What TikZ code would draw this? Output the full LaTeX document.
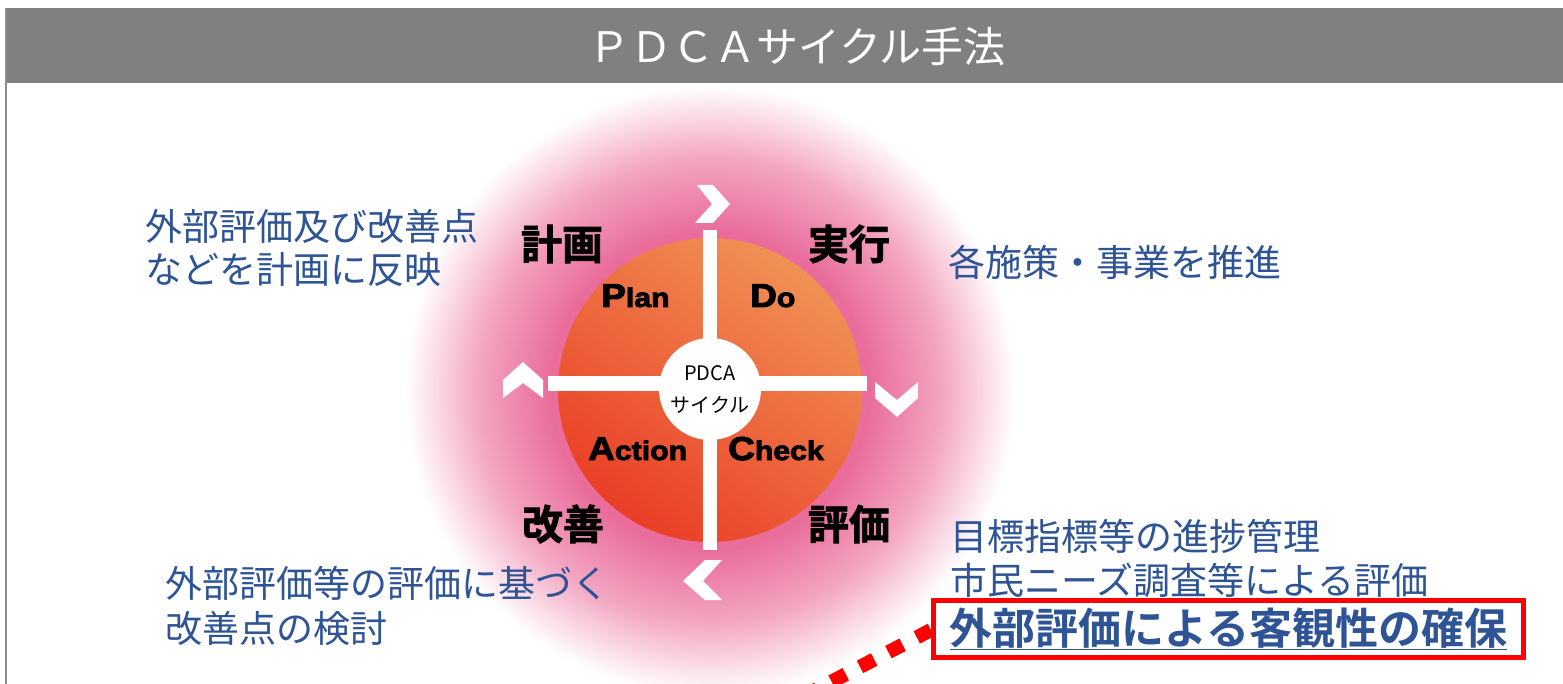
\documentclass[tikz,border=0pt]{standalone}
\usepackage{fontspec}
\setmainfont{Noto Sans CJK JP}
\newfontfamily\jp{Noto Sans CJK JP}
\newfontfamily\jpb{Noto Sans CJK JP Bold}
\newfontfamily\jpheavy[FakeBold=1.8]{Noto Sans CJK JP Bold}
\newfontfamily\heavy[FakeBold=3,FakeStretch=1.12]{Liberation Sans Bold}
\definecolor{titlegray}{RGB}{128,128,128}
\definecolor{framegray}{RGB}{140,140,140}
\definecolor{glowpink}{RGB}{233,108,155}
\definecolor{glowmid}{RGB}{243,165,193}
\definecolor{disctop}{RGB}{240,145,85}
\definecolor{discbot}{RGB}{234,62,38}
\definecolor{textblue}{RGB}{46,84,150}
\definecolor{boxred}{RGB}{255,0,0}
\pgfdeclareradialshading{glow}{\pgfpoint{0bp}{0bp}}{color(0bp)=(glowpink); color(13bp)=(glowpink); color(19bp)=(glowmid); color(25bp)=(white); color(50bp)=(white)}
\tikzset{
  bluetext/.style={anchor=west, inner sep=0pt, text=textblue, font=\jp\fontsize{37}{40}\selectfont},
  stagelabel/.style={inner sep=0pt, text=black, font=\jpheavy\fontsize{41}{44}\selectfont},
  pdcaword/.style={anchor=base west, inner sep=0pt, text=black},
  chevron/.style={fill=white, draw=none}
}
\newcommand{\bigL}[1]{{\fontsize{33}{36}\selectfont #1}}
\newcommand{\smlL}[1]{{\fontsize{27}{30}\selectfont #1}}
\begin{document}
\begin{tikzpicture}[x=1pt,y=-1pt]
\useasboundingbox (0,0) rectangle (1563,684);
\fill[white] (0,0) rectangle (1563,684);
% glow
\shade[shading=glow] (710,390) circle[radius=305pt];
% disc
\shade[top color=disctop, bottom color=discbot, shading angle=-35] (710,390) circle[radius=152pt];
% cross
\fill[white] (703,230) rectangle (717,550);
\fill[white] (548,376) rectangle (867,391);
\node[circle, fill=white, minimum size=102pt, inner sep=0pt, align=center,
      font=\jp\fontsize{20}{32}\selectfont] (core) at (710,389) {PDCA\\サイクル};
% chevrons
\fill[chevron] (697,185) -- (713,185) -- (730,204) -- (713,223) -- (695,223) -- (712,204) -- cycle;
\fill[chevron] (875,382) -- (897,400) -- (918,382) -- (918,398) -- (897,417) -- (875,398) -- cycle;
\fill[chevron] (722,560) -- (705,560) -- (683,581) -- (705,600) -- (722,600) -- (703,581) -- cycle;
\fill[chevron] (503,380) -- (523,362) -- (543,380) -- (543,398) -- (523,383) -- (503,398) -- cycle;
% stage labels
\node[stagelabel] (keikaku) at (562,244) {計画};
\node[stagelabel] (jikko) at (849,244) {実行};
\node[stagelabel] (kaizen) at (563,524) {改善};
\node[stagelabel] (hyoka) at (849,524) {評価};
% PDCA words
\node[pdcaword, font=\heavy] (plan) at (601,307) {\bigL{P}\smlL{lan}};
\node[pdcaword, font=\heavy] (do) at (750,307) {\bigL{D}\smlL{o}};
\node[pdcaword, font=\heavy] (action) at (588,460) {\bigL{A}\smlL{ction}};
\node[pdcaword, font=\heavy] (check) at (728,460) {\bigL{C}\smlL{heck}};
% title bar
\fill[titlegray] (6,8) rectangle (1563,83);
\draw[framegray, line width=2pt] (6,8) -- (6,684);
\node[inner sep=0pt, text=white, font=\jp\fontsize{42}{46}\selectfont] (title) at (797,47) {ＰＤＣＡサイクル手法};
% blue texts
\node[bluetext] (pl1) at (145,226) {外部評価及び改善点};
\node[bluetext] (pl2) at (145,270) {などを計画に反映};
\node[bluetext] (do1) at (948,262) {各施策・事業を推進};
\node[bluetext] (ac1) at (165,583) {外部評価等の評価に基づく};
\node[bluetext] (ac2) at (165,628) {改善点の検討};
\node[bluetext] (ch1) at (950,536) {目標指標等の進捗管理};
\node[bluetext] (ch2) at (950,580) {市民ニーズ調査等による評価};
\node[draw=boxred, line width=5pt, anchor=west, inner xsep=0pt, inner ysep=3pt,
      minimum width=590pt, minimum height=57pt, text=textblue,
      font=\jpb\fontsize{43}{46}\selectfont] (key) at (931,629) {\underline{外部評価による客観性の確保}};
\coordinate (dotend) at (800,698);
\draw[boxred, line width=14pt, dash pattern=on 16pt off 16pt] ([yshift=-1pt]key.west) -- (dotend);
\end{tikzpicture}
\end{document}
